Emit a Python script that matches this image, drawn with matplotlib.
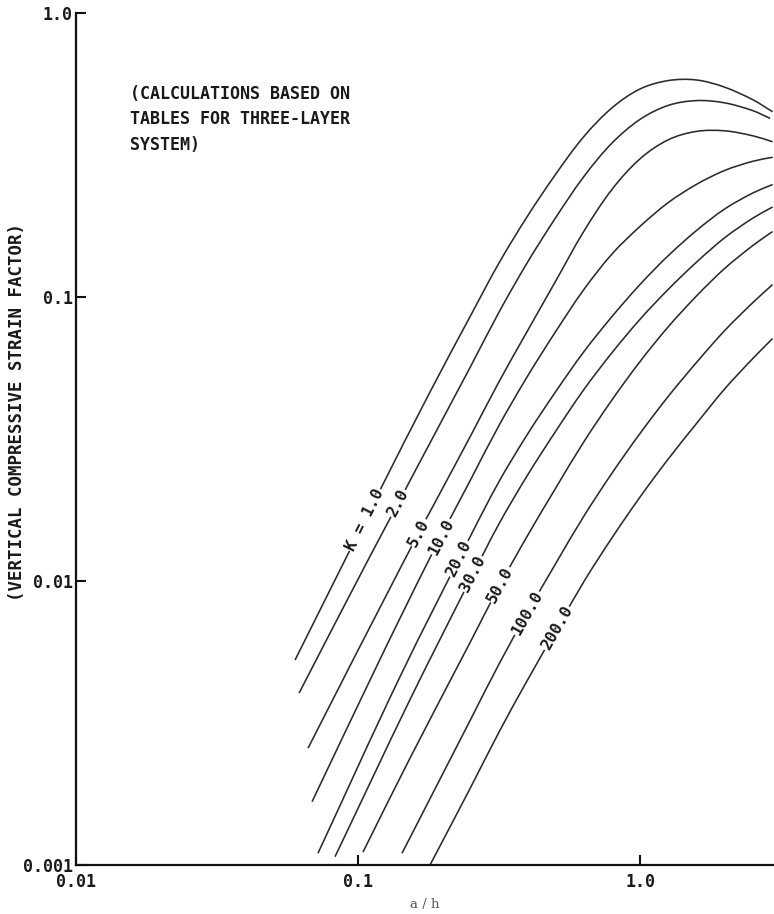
import numpy as np
import matplotlib.pyplot as plt
from matplotlib.path import Path
from matplotlib.patches import PathPatch

# a/h vs vertical compressive strain factor, one curve per modular ratio K
k1_x = [0.0598, 0.1197, 0.180, 0.2512, 0.3162, 0.3981, 0.5012, 0.6310, 0.7943, 1.0, 1.259, 1.585, 1.995, 2.512, 2.951]
k1_y = [0.00527, 0.0209, 0.0463, 0.08629, 0.1318, 0.1920, 0.2699, 0.3665, 0.4630, 0.5401, 0.5781, 0.5809, 0.5480, 0.4948, 0.4489]

k2_x = [0.0618, 0.1085, 0.2512, 0.3162, 0.3981, 0.5012, 0.6310, 0.7943, 1.0, 1.259, 1.585, 1.995, 2.512, 2.891]
k2_y = [0.00403, 0.01185, 0.05715, 0.08847, 0.1320, 0.1897, 0.2649, 0.3479, 0.4221, 0.4727, 0.4915, 0.4826, 0.4529, 0.4255]

k5_x = [0.0665, 0.1468, 0.2512, 0.3162, 0.3981, 0.5012, 0.6310, 0.7943, 1.0, 1.259, 1.585, 1.995, 2.512, 2.951]
k5_y = [0.00258, 0.01196, 0.03256, 0.05033, 0.07572, 0.1134, 0.1699, 0.2389, 0.3066, 0.3577, 0.3829, 0.3847, 0.3694, 0.3520]

k10_x = [0.0687, 0.1197, 0.180, 0.2512, 0.3162, 0.3981, 0.5012, 0.6310, 0.7943, 1.0, 1.259, 1.585, 1.995, 2.512, 2.951]
k10_y = [0.00167, 0.005305, 0.01208, 0.02281, 0.03531, 0.05241, 0.07535, 0.1060, 0.1415, 0.1773, 0.2150, 0.2492, 0.2789, 0.3005, 0.3104]

k20_x = [0.0721, 0.1409, 0.2512, 0.3162, 0.3981, 0.5012, 0.6310, 0.7943, 1.0, 1.259, 1.585, 1.995, 2.512, 2.951]
k20_y = [0.00110, 0.004603, 0.01448, 0.02239, 0.03277, 0.04629, 0.06402, 0.08521, 0.1107, 0.1398, 0.1714, 0.2041, 0.2324, 0.2488]

k30_x = [0.0829, 0.1529, 0.2512, 0.3162, 0.3981, 0.5012, 0.6310, 0.7943, 1.0, 1.259, 1.585, 1.995, 2.512, 2.951]
k30_y = [0.00107, 0.003825, 0.01022, 0.01590, 0.02350, 0.03358, 0.04710, 0.06356, 0.08347, 0.1064, 0.1326, 0.1616, 0.1895, 0.2074]

k50_x = [0.1041, 0.1529, 0.2512, 0.3162, 0.3981, 0.5012, 0.6310, 0.7943, 1.0, 1.259, 1.585, 1.995, 2.512, 2.951]
k50_y = [0.00111, 0.00238, 0.006146, 0.009563, 0.01439, 0.02117, 0.03083, 0.04335, 0.05927, 0.07855, 0.1008, 0.1260, 0.1518, 0.1700]

k100_x = [0.1432, 0.2512, 0.3162, 0.3981, 0.5012, 0.6310, 0.7943, 1.0, 1.259, 1.585, 1.995, 2.512, 2.951]
k100_y = [0.00110, 0.003266, 0.005101, 0.007727, 0.01148, 0.01687, 0.02393, 0.03309, 0.04467, 0.05880, 0.07614, 0.09557, 0.1106]

k200_x = [0.180, 0.2512, 0.3162, 0.3981, 0.5012, 0.6310, 0.7943, 1.0, 1.259, 1.585, 1.995, 2.512, 2.951]
k200_y = [0.00100, 0.001882, 0.002939, 0.004463, 0.006665, 0.009920, 0.01417, 0.01976, 0.02689, 0.03585, 0.04745, 0.06074, 0.07142]

k_labels = ['K = 1.0', '2.0', '5.0', '10.0', '20.0', '30.0', '50.0', '100.0', '200.0']
# a/h where each curve carries its label
label_at = [0.1059, 0.1387, 0.1644, 0.1968, 0.2282, 0.2557, 0.3188, 0.3975, 0.5077]

curves = [(k1_x, k1_y), (k2_x, k2_y), (k5_x, k5_y), (k10_x, k10_y), (k20_x, k20_y),
          (k30_x, k30_y), (k50_x, k50_y), (k100_x, k100_y), (k200_x, k200_y)]

mono = 'DejaVu Sans Mono'
ink = '#1a1a1a'


def smooth_path(xs, ys):
    # cubic Bezier through the read points, tangents taken in log-log space
    p = np.column_stack([np.log10(xs), np.log10(ys)])
    n = len(p)
    tang = np.empty_like(p)
    tang[0] = p[1] - p[0]
    tang[-1] = p[-1] - p[-2]
    tang[1:-1] = p[2:] - p[:-2]
    tang /= np.linalg.norm(tang, axis=1)[:, None]
    verts = [p[0]]
    for i in range(n - 1):
        d = np.linalg.norm(p[i + 1] - p[i]) / 3
        verts += [p[i] + tang[i] * d, p[i + 1] - tang[i + 1] * d, p[i + 1]]
    verts = 10 ** np.array(verts)
    codes = [Path.MOVETO] + [Path.CURVE4] * (3 * (n - 1))
    return Path(verts, codes)


fig = plt.figure(figsize=(7.74, 9.14), dpi=100)
ax = fig.add_axes([0.0982, 0.0536, 0.9018, 0.9322])

ax.set_xscale('log')
ax.set_yscale('log')
ax.set_xlim(0.01, 2.985)
ax.set_ylim(0.001, 1.0)

for xs, ys in curves:
    ax.add_patch(PathPatch(smooth_path(xs, ys), fill=False, ec='#2b2b2b',
                           lw=1.15, capstyle='butt', zorder=2))


def label_curve(xs, ys, xl, text):
    lx, ly = np.log10(xs), np.log10(ys)
    t = np.log10(xl)
    yl = 10 ** np.interp(t, lx, ly)
    d = 0.03
    p0 = ax.transData.transform((10 ** (t - d), 10 ** np.interp(t - d, lx, ly)))
    p1 = ax.transData.transform((10 ** (t + d), 10 ** np.interp(t + d, lx, ly)))
    ang = np.degrees(np.arctan2(p1[1] - p0[1], p1[0] - p0[0]))
    ax.text(xl, yl, text, rotation=ang, rotation_mode='anchor',
            ha='center', va='center', family=mono, fontweight='bold',
            fontsize=11.5, color=ink, zorder=3,
            bbox=dict(fc='white', ec='none', pad=0.6))


for (xs, ys), xl, text in zip(curves, label_at, k_labels):
    label_curve(xs, ys, xl, text)

ax.text(0.0774, 0.916, '(CALCULATIONS BASED ON\nTABLES FOR THREE-LAYER\nSYSTEM)',
        transform=ax.transAxes, ha='left', va='top', family=mono,
        fontweight='bold', fontsize=12, color=ink, linespacing=1.55)

for side in ['top', 'right']:
    ax.spines[side].set_visible(False)
for side in ['left', 'bottom']:
    ax.spines[side].set_linewidth(1.6)
    ax.spines[side].set_color('#111111')

ax.minorticks_off()
ax.set_xticks([0.01, 0.1, 1.0])
ax.set_xticklabels(['0.01', '0.1', '1.0'])
ax.set_yticks([0.001, 0.01, 0.1, 1.0])
ax.set_yticklabels(['0.001', '0.01', '0.1', '1.0'])
ax.tick_params(direction='in', length=7, width=1.5, color='#111111',
               labelsize=12, labelcolor=ink)
ax.tick_params(axis='y', pad=2.5)
ax.tick_params(axis='x', pad=6)
for lab in ax.get_xticklabels() + ax.get_yticklabels():
    lab.set_family(mono)
    lab.set_fontweight('bold')

ax.set_xlabel('a / h', family='DejaVu Serif', fontsize=9.5, color='#555555', va='center')
ax.xaxis.set_label_coords(0.5, -0.0458)
ax.set_ylabel('(VERTICAL COMPRESSIVE STRAIN FACTOR)', family=mono, fontweight='bold',
              fontsize=12.5, color=ink, va='center', ha='center')
ax.yaxis.set_label_coords(-0.0845, 0.532)

fig.savefig('out.png', dpi=100)
